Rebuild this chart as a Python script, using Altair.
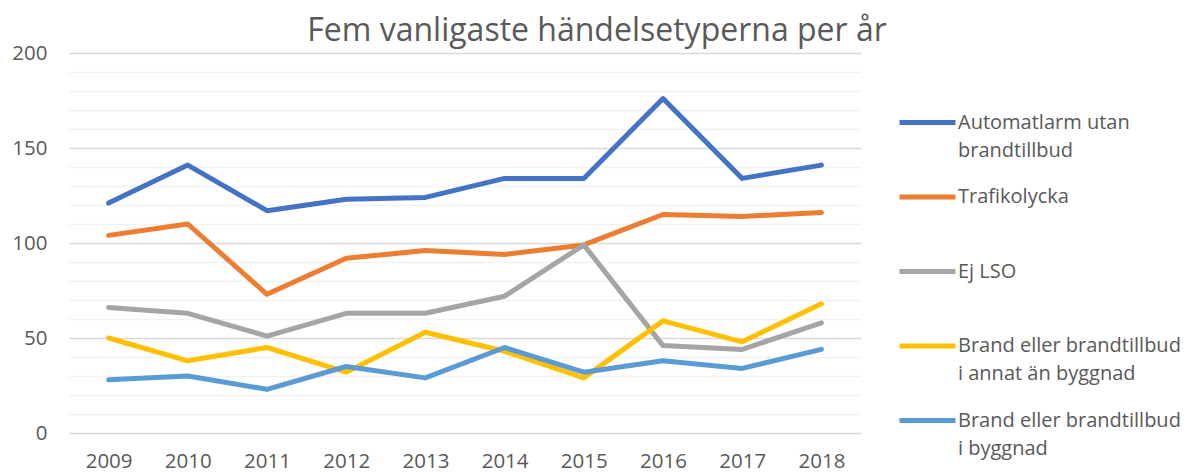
import altair as alt
import pandas as pd

years = ["2009", "2010", "2011", "2012", "2013", "2014", "2015", "2016", "2017", "2018"]
series = [
    "Automatlarm utan|brandtillbud",
    "Trafikolycka",
    "Ej LSO",
    "Brand eller brandtillbud|i annat än byggnad",
    "Brand eller brandtillbud|i byggnad",
]
automatlarm = [121, 141, 117, 123, 124, 134, 134, 176, 134, 141]
trafikolycka = [104, 110, 73, 92, 96, 94, 99, 115, 114, 116]
ej_lso = [66, 63, 51, 63, 63, 72, 99, 46, 44, 58]
brand_annat = [50, 38, 45, 32, 53, 43, 29, 59, 48, 68]
brand_byggnad = [28, 30, 23, 35, 29, 45, 32, 38, 34, 44]
colors = ["#4472C4", "#ED7D31", "#A5A5A5", "#FFC000", "#5B9BD5"]
y_ticks = list(range(0, 201, 10))
title = "Fem vanligaste händelsetyperna per år"

values = [automatlarm, trafikolycka, ej_lso, brand_annat, brand_byggnad]
rows = []
for i, (name, vals) in enumerate(zip(series, values)):
    for y, v in zip(years, vals):
        rows.append({"year": y, "serie": name, "value": v, "order": i})
df = pd.DataFrame(rows)

FONT = "Open Sans"
TXT = "#595959"

chart = (
    alt.Chart(df)
    .mark_line(strokeWidth=5, strokeCap="round", strokeJoin="round")
    .encode(
        x=alt.X(
            "year:O",
            sort=years,
            title=None,
            scale=alt.Scale(paddingOuter=0.5),
            axis=alt.Axis(
                labelAngle=0,
                domain=False,
                ticks=False,
                grid=False,
                labelFontSize=20.5,
                labelFont=FONT,
                labelColor=TXT,
                labelPadding=18,
            ),
        ),
        y=alt.Y(
            "value:Q",
            title=None,
            scale=alt.Scale(domain=[0, 200], nice=False),
            axis=alt.Axis(
                values=y_ticks,
                labelExpr="datum.value % 50 === 0 ? datum.label : ''",
                domain=False,
                ticks=False,
                gridColor={
                    "condition": {"test": "datum.value % 50 === 0", "value": "#D9D9D9"},
                    "value": "#F2F2F2",
                },
                gridWidth=1.5,
                labelFontSize=20.5,
                labelFont=FONT,
                labelColor=TXT,
                labelPadding=22,
            ),
        ),
        color=alt.Color(
            "serie:N",
            sort=series,
            scale=alt.Scale(domain=series, range=colors),
            legend=alt.Legend(
                title=None,
                orient="none",
                legendX=828,
                legendY=39,
                symbolType="stroke",
                symbolSize=3136,
                symbolStrokeWidth=5,
                labelExpr="split(datum.label, '|')",
                labelFontSize=20,
                labelFont=FONT,
                labelColor=TXT,
                labelLimit=400,
                labelOffset=0,
                gridAlign="all",
                rowPadding=5.5,
            ),
        ),
        order=alt.Order("order:Q"),
    )
    .properties(
        width=792,
        height=380,
        autosize=alt.AutoSizeParams(type="none"),
        padding={"left": 61, "top": 45, "right": 325, "bottom": 40},
        title=alt.TitleParams(
            title,
            fontSize=32,
            font=FONT,
            color=TXT,
            fontWeight="normal",
            anchor="middle",
            frame="group",
            dx=132,
            baseline="alphabetic",
            offset=-30,
        ),
    )
    .configure(
        background="white",
        view=alt.ViewConfig(stroke=None),
        style={"guide-label": {"lineHeight": 28}},
    )
)

chart.save("out.html", embed_options={"renderer": "svg", "actions": False})
